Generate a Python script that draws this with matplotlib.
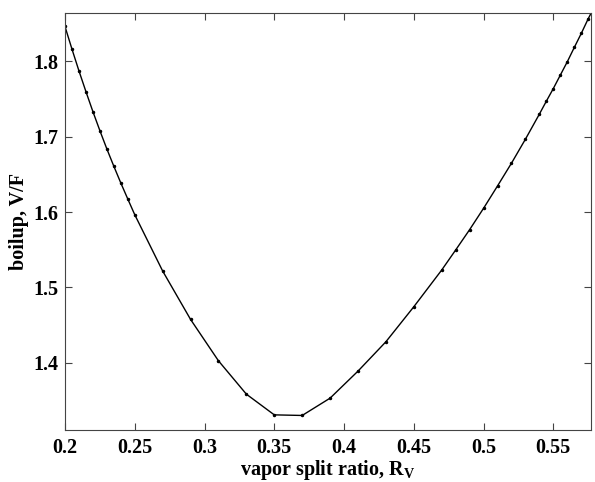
import matplotlib
matplotlib.use("Agg")
import matplotlib.pyplot as plt

# vapor split ratio R_V and boilup V/F
rv = [0.200, 0.205, 0.210, 0.215, 0.220, 0.225, 0.230, 0.235, 0.240, 0.245,
      0.250, 0.270, 0.290, 0.310, 0.330, 0.350, 0.370, 0.390, 0.410, 0.430,
      0.450, 0.470, 0.480, 0.490, 0.500, 0.510, 0.520, 0.530, 0.540, 0.545,
      0.550, 0.555, 0.560, 0.565, 0.570, 0.575, 0.577]
boilup = [1.8465, 1.8165, 1.7876, 1.7601, 1.7335, 1.7082, 1.6839, 1.6609, 1.6387, 1.6174,
          1.5965, 1.5217, 1.4574, 1.4024, 1.3581, 1.3306, 1.3298, 1.3528, 1.3887, 1.4277,
          1.4742, 1.5230, 1.5496, 1.5766, 1.6050, 1.6347, 1.6649, 1.6968, 1.7301, 1.7473,
          1.7641, 1.7819, 1.7996, 1.8186, 1.8372, 1.8568, 1.8640]

x_ticks = [0.2, 0.25, 0.3, 0.35, 0.4, 0.45, 0.5, 0.55]
y_ticks = [1.4, 1.5, 1.6, 1.7, 1.8]

plt.rcParams["font.family"] = ["Liberation Serif", "DejaVu Serif"]
plt.rcParams["font.weight"] = "bold"
plt.rcParams["mathtext.fontset"] = "custom"
plt.rcParams["mathtext.rm"] = "Liberation Serif:bold"
plt.rcParams["mathtext.it"] = "Liberation Serif:bold"
plt.rcParams["mathtext.bf"] = "Liberation Serif:bold"

fig = plt.figure(figsize=(5.95, 4.82), dpi=100)
ax = fig.add_axes([0.1092, 0.1079, 0.8841, 0.8645])

ax.plot(rv, boilup, color="black", linewidth=1.0, marker=".", markersize=3)

ax.set_xlim(0.2, 0.577)
ax.set_ylim(1.3105, 1.864)
ax.set_xticks(x_ticks)
ax.set_xticklabels(["0.2", "0.25", "0.3", "0.35", "0.4", "0.45", "0.5", "0.55"])
ax.set_yticks(y_ticks)
ax.set_yticklabels(["1.4", "1.5", "1.6", "1.7", "1.8"])

ax.tick_params(direction="in", top=True, right=True, length=5, width=0.8,
               labelsize=14.5, color="#444444")
ax.tick_params(axis="x", pad=6)
ax.tick_params(axis="y", pad=5)
for s in ax.spines.values():
    s.set_color("#444444")
    s.set_linewidth(0.8)

ax.set_xlabel(r"vapor split ratio, R$_\mathregular{V}$", fontsize=14.5,
              fontweight="bold", labelpad=0)
ax.set_ylabel("boilup, V/F", fontsize=14.5, fontweight="bold", labelpad=3)

fig.savefig("out.png", dpi=100)
